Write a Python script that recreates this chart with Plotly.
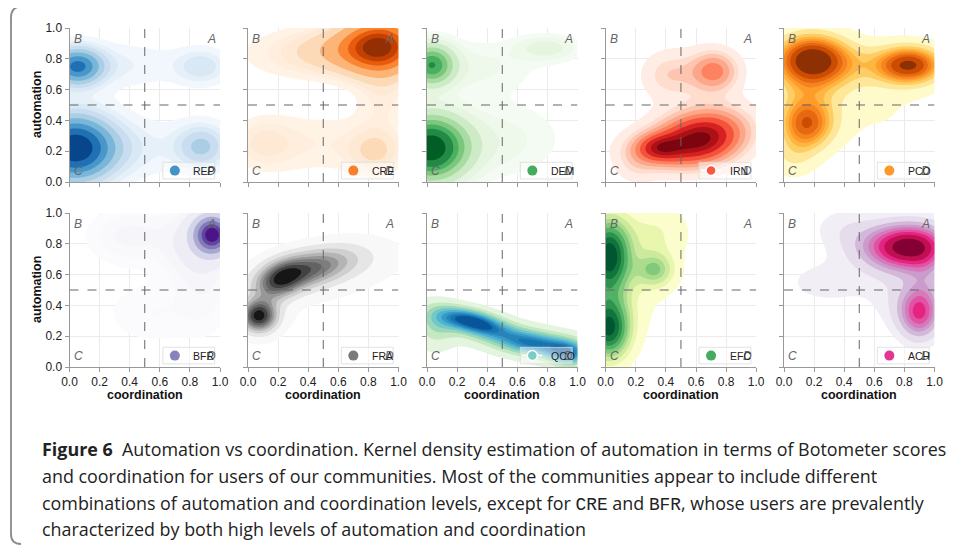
import numpy as np
import plotly.graph_objects as go

# ---------------- data ----------------
COMMUNITIES = ["REP", "CRE", "DEM", "IRN", "PCO", "BFR", "FRA", "QCO", "EFC", "ACH"]
QUADRANTS = ["A", "B", "C", "D"]
TICKS = [0.0, 0.2, 0.4, 0.6, 0.8, 1.0]
TICK_LABELS = ["0.0", "0.2", "0.4", "0.6", "0.8", "1.0"]
X_TITLE = "coordination"
Y_TITLE = "automation"

# density modes:
# (coordination, automation, spread_coord, spread_auto, weight, correlation)
REP_MODES = [(0.03, 0.22, 0.18, 0.15, 0.50, 0.0), (0.05, 0.75, 0.12, 0.085, 0.14, 0.0),
             (0.35, 0.22, 0.28, 0.13, 0.10, 0.0), (0.35, 0.76, 0.28, 0.10, 0.06, 0.0),
             (0.88, 0.23, 0.12, 0.10, 0.08, 0.0), (0.88, 0.75, 0.12, 0.08, 0.04, 0.0),
             (0.50, 0.50, 0.60, 0.50, 0.09, 0.0)]
CRE_MODES = [(0.88, 0.88, 0.17, 0.12, 0.45, 0.0), (0.60, 0.85, 0.22, 0.10, 0.12, 0.0),
             (0.25, 0.83, 0.28, 0.12, 0.06, 0.0), (0.85, 0.20, 0.12, 0.10, 0.05, 0.0),
             (0.10, 0.25, 0.15, 0.12, 0.05, 0.0), (0.50, 0.25, 0.30, 0.15, 0.09, 0.0),
             (0.90, 0.55, 0.12, 0.15, 0.04, 0.0)]
DEM_MODES = [(0.02, 0.22, 0.16, 0.14, 0.48, 0.0), (0.03, 0.76, 0.10, 0.09, 0.13, 0.0),
             (0.30, 0.25, 0.28, 0.15, 0.08, 0.0), (0.30, 0.75, 0.28, 0.12, 0.07, 0.0),
             (0.80, 0.87, 0.15, 0.06, 0.03, 0.0), (0.60, 0.30, 0.30, 0.20, 0.06, 0.0)]
IRN_MODES = [(0.64, 0.29, 0.20, 0.12, 0.45, 0.2), (0.35, 0.22, 0.10, 0.06, 0.06, 0.0),
             (0.45, 0.22, 0.25, 0.10, 0.12, 0.0), (0.72, 0.72, 0.11, 0.09, 0.10, 0.0),
             (0.42, 0.70, 0.12, 0.10, 0.05, 0.0), (0.55, 0.60, 0.25, 0.25, 0.09, 0.0),
             (0.20, 0.12, 0.10, 0.10, 0.03, 0.0)]
PCO_MODES = [(0.18, 0.80, 0.18, 0.12, 0.32, 0.0), (0.84, 0.76, 0.16, 0.09, 0.20, 0.0),
             (0.15, 0.37, 0.13, 0.12, 0.16, 0.0), (0.50, 0.75, 0.25, 0.12, 0.10, 0.0),
             (0.15, 0.55, 0.18, 0.18, 0.12, 0.0), (0.65, 0.43, 0.30, 0.17, 0.09, 0.0),
             (0.05, 0.15, 0.12, 0.10, 0.04, 0.0)]
BFR_MODES = [(0.95, 0.86, 0.08, 0.08, 0.40, 0.0), (0.85, 0.80, 0.15, 0.15, 0.18, 0.0),
             (0.40, 0.85, 0.18, 0.12, 0.09, 0.0), (0.55, 0.35, 0.22, 0.14, 0.07, 0.0),
             (0.90, 0.50, 0.12, 0.20, 0.06, 0.0)]
FRA_MODES = [(0.38, 0.63, 0.22, 0.10, 0.42, 0.5), (0.07, 0.33, 0.08, 0.07, 0.17, 0.0),
             (0.22, 0.57, 0.10, 0.08, 0.11, 0.3), (0.62, 0.66, 0.28, 0.10, 0.09, 0.4),
             (0.15, 0.45, 0.12, 0.15, 0.08, 0.3), (0.65, 0.50, 0.35, 0.22, 0.08, 0.5)]
QCO_MODES = [(0.30, 0.30, 0.17, 0.07, 0.22, -0.5), (0.72, 0.15, 0.20, 0.07, 0.22, -0.3),
             (0.50, 0.20, 0.45, 0.12, 0.22, -0.7), (0.05, 0.25, 0.10, 0.12, 0.09, 0.0),
             (0.95, 0.08, 0.10, 0.07, 0.09, 0.0)]
EFC_MODES = [(0.02, 0.72, 0.10, 0.17, 0.32, 0.0), (0.02, 0.25, 0.10, 0.14, 0.26, 0.0),
             (0.33, 0.63, 0.09, 0.08, 0.06, 0.0), (0.15, 0.60, 0.22, 0.30, 0.18, 0.0),
             (0.35, 0.88, 0.15, 0.12, 0.06, 0.0)]
ACH_MODES = [(0.84, 0.78, 0.17, 0.10, 0.42, 0.0), (0.62, 0.78, 0.15, 0.10, 0.07, 0.0),
             (0.90, 0.35, 0.09, 0.11, 0.15, 0.0), (0.82, 0.45, 0.15, 0.15, 0.08, 0.0),
             (0.30, 0.55, 0.25, 0.12, 0.07, 0.0), (0.95, 0.60, 0.08, 0.15, 0.04, 0.0),
             (0.40, 0.90, 0.15, 0.10, 0.04, 0.0)]

CAPTION_LINES = [
    "<b>Figure 6</b>  Automation vs coordination. Kernel density estimation of automation in terms of Botometer scores",
    "and coordination for users of our communities. Most of the communities appear to include different",
    "combinations of automation and coordination levels, except for {CRE} and {BFR}, whose users are prevalently",
    "characterized by both high levels of automation and coordination",
]

# ---------------- style ----------------
CMAPS = {
    "REP": ["#f7fbff", "#deebf7", "#c6dbef", "#9ecae1", "#6baed6", "#4292c6", "#2171b5", "#08519c", "#08306b"],
    "CRE": ["#fff5eb", "#fee6ce", "#fdd0a2", "#fdae6b", "#fd8d3c", "#f16913", "#d94801", "#a63603", "#7f2704"],
    "DEM": ["#f7fcf5", "#e5f5e0", "#c7e9c0", "#a1d99b", "#74c476", "#41ab5d", "#238b45", "#006d2c", "#00441b"],
    "IRN": ["#fff5f0", "#fee0d2", "#fcbba1", "#fc9272", "#fb6a4a", "#ef3b2c", "#cb181d", "#a50f15", "#67000d"],
    "PCO": ["#ffffe5", "#fff7bc", "#fee391", "#fec44f", "#fe9929", "#ec7014", "#cc4c02", "#993404", "#662506"],
    "BFR": ["#fcfbfd", "#efedf5", "#dadaeb", "#bcbddc", "#9e9ac8", "#807dba", "#6a51a3", "#54278f", "#3f007d"],
    "FRA": ["#ffffff", "#f0f0f0", "#d9d9d9", "#bdbdbd", "#969696", "#737373", "#525252", "#252525", "#000000"],
    "QCO": ["#f7fcf0", "#e0f3db", "#ccebc5", "#a8ddb5", "#7bccc4", "#4eb3d3", "#2b8cbe", "#0868ac", "#084081"],
    "EFC": ["#ffffe5", "#f7fcb9", "#d9f0a3", "#addd8e", "#78c679", "#41ab5d", "#238443", "#006837", "#004529"],
    "ACH": ["#f7f4f9", "#e7e1ef", "#d4b9da", "#c994c7", "#df65b0", "#e7298a", "#ce1256", "#980043", "#67001f"],
}
MARKER_POS = {"REP": 0.62, "CRE": 0.55, "DEM": 0.62, "IRN": 0.55, "PCO": 0.5, "BFR": 0.6,
              "FRA": 0.6, "QCO": 0.5, "EFC": 0.62, "ACH": 0.6}
MODES = {"REP": REP_MODES, "CRE": CRE_MODES, "DEM": DEM_MODES, "IRN": IRN_MODES, "PCO": PCO_MODES,
         "BFR": BFR_MODES, "FRA": FRA_MODES, "QCO": QCO_MODES, "EFC": EFC_MODES, "ACH": ACH_MODES}
LINE_LEGEND = {"IRN", "QCO"}

# page body has an 8px margin: figure is placed at (8, 8)
OFF = 8
W, H = 949, 537
COL_X0 = [69.5, 248.0, 427.0, 605.7, 784.0]
PANEL_W = 150.5
ROW_Y0 = [28.0, 213.0]
PANEL_H = 154.0


def px(x):
    return (x - OFF) / W


def py(y):
    return 1 - (y - OFF) / H


def hex2rgb(h):
    h = h.lstrip("#")
    return np.array([int(h[i:i + 2], 16) for i in (0, 2, 4)], float)


def cmap_eval(anchors, t):
    arr = np.array([hex2rgb(a) for a in anchors])
    pos = np.linspace(0, 1, len(anchors))
    r = np.interp(t, pos, arr[:, 0]); g = np.interp(t, pos, arr[:, 1]); b = np.interp(t, pos, arr[:, 2])
    return "rgb(%d,%d,%d)" % (round(r), round(g), round(b))


grid = np.linspace(0, 1, 181)
GX, GY = np.meshgrid(grid, grid)


def density(modes):
    z = np.zeros_like(GX)
    for cx, cy, sx, sy, w, r in modes:
        dx = (GX - cx) / sx
        dy = (GY - cy) / sy
        q = (dx * dx - 2 * r * dx * dy + dy * dy) / (1 - r * r)
        z += w * np.exp(-0.5 * q) / (2 * np.pi * sx * sy * np.sqrt(1 - r * r))
    return z


PROPS = np.linspace(0.05, 1, 10)

fig = go.Figure()
layout = dict(width=W, height=H, margin=dict(l=0, r=0, t=0, b=0, autoexpand=False),
              paper_bgcolor="white", plot_bgcolor="white", showlegend=False,
              font=dict(family="Liberation Sans, Arial, sans-serif", color="#222"))
shapes = []
annotations = []

for i, name in enumerate(COMMUNITIES):
    r, c = divmod(i, 5)
    n = i + 1
    xa = "xaxis" if n == 1 else "xaxis%d" % n
    ya = "yaxis" if n == 1 else "yaxis%d" % n
    xr = "x" if n == 1 else "x%d" % n
    yr = "y" if n == 1 else "y%d" % n

    z = density(MODES[name])
    vals = np.sort(z.ravel())[::-1]
    cum = np.cumsum(vals) / vals.sum()
    idx = np.clip(np.searchsorted(cum, 1 - PROPS), 0, len(vals) - 1)
    levels = vals[idx]
    mids = 0.5 * (levels[:-1] + levels[1:])
    tt = (mids - levels[0]) / (levels[-1] - levels[0])
    band_colors = [cmap_eval(CMAPS[name], t) for t in tt]
    zt = np.interp(z, np.concatenate([[0.0], levels]), np.arange(0, 11))
    cscale = [[0.0, "rgba(255,255,255,0)"]] + [[k / 9, band_colors[k - 1]] for k in range(1, 10)]

    fig.add_trace(go.Contour(
        x=grid, y=grid, z=zt, xaxis=xr, yaxis=yr,
        autocontour=False, contours=dict(start=1, end=9, size=1, coloring="fill", showlines=False),
        colorscale=cscale, showscale=False, line=dict(width=0), hoverinfo="skip"))

    x0 = px(COL_X0[c])
    x1 = px(COL_X0[c] + PANEL_W)
    y1 = py(ROW_Y0[r])
    y0 = py(ROW_Y0[r] + PANEL_H)
    common = dict(range=[0, 1], tickvals=TICKS, ticktext=TICK_LABELS, ticks="outside", ticklen=4,
                  tickcolor="#999", showline=True, linecolor="#999", linewidth=1,
                  showgrid=True, gridcolor="#ebebeb", gridwidth=1, zeroline=False,
                  tickfont=dict(size=12, color="#222"), fixedrange=True, automargin=False)
    layout[xa] = dict(domain=[x0, x1], anchor=yr, showticklabels=(r == 1), **common)
    layout[ya] = dict(domain=[y0, y1], anchor=xr, showticklabels=(c == 0), **common)

    if r == 1:
        annotations.append(dict(xref="paper", yref="paper", x=(x0 + x1) / 2, y=py(395),
                                xanchor="center", yanchor="middle", showarrow=False,
                                text="<b>%s</b>" % X_TITLE, font=dict(size=12.5, color="#111")))
    if c == 0:
        annotations.append(dict(xref="paper", yref="paper", x=px(37), y=(y0 + y1) / 2,
                                xanchor="center", yanchor="middle", showarrow=False, textangle=-90,
                                text="<b>%s</b>" % Y_TITLE, font=dict(size=12.5, color="#111")))

    # quadrant dividers
    shapes.append(dict(type="line", xref=xr, yref=yr, x0=0.5, x1=0.5, y0=0, y1=1,
                       line=dict(color="#666", width=1, dash="dash")))
    shapes.append(dict(type="line", xref=xr, yref=yr, x0=0, x1=1, y0=0.5, y1=0.5,
                       line=dict(color="#666", width=1, dash="dash")))
    # quadrant letters
    for q, (qx, qy, xanc, yanc) in zip(QUADRANTS, [(0.985, 0.985, "right", "top"), (0.015, 0.985, "left", "top"),
                                                    (0.015, 0.015, "left", "bottom"), (0.985, 0.015, "right", "bottom")]):
        annotations.append(dict(xref=xr, yref=yr, x=qx, y=qy, xanchor=xanc, yanchor=yanc,
                                text="<i>%s</i>" % q, showarrow=False,
                                font=dict(size=12, color="#666", family="Liberation Sans, Arial")))
    # legend box + marker (shapes are drawn in order, so the marker sits on the box)
    shapes.append(dict(type="rect", xref=xr, yref=yr, x0=0.62, x1=0.965, y0=0.02, y1=0.128,
                       fillcolor="rgba(255,255,255,0.45)", line=dict(color="rgba(220,220,220,0.8)", width=1)))
    mcol = cmap_eval(CMAPS[name], MARKER_POS[name])
    if name in LINE_LEGEND:
        shapes.append(dict(type="line", xref=xr, yref=yr, xsizemode="pixel", ysizemode="pixel",
                           xanchor=0.70, yanchor=0.074, x0=-10, x1=10, y0=0, y1=0,
                           line=dict(color="white", width=1.5)))
        shapes.append(dict(type="circle", xref=xr, yref=yr, xsizemode="pixel", ysizemode="pixel",
                           xanchor=0.70, yanchor=0.074, x0=-5, x1=5, y0=-5, y1=5,
                           fillcolor=mcol, line=dict(color="white", width=1.5)))
    else:
        shapes.append(dict(type="circle", xref=xr, yref=yr, xsizemode="pixel", ysizemode="pixel",
                           xanchor=0.70, yanchor=0.074, x0=-5, x1=5, y0=-5, y1=5,
                           fillcolor=mcol, line=dict(width=0)))
    annotations.append(dict(xref=xr, yref=yr, x=0.81, y=0.074, xanchor="left", yanchor="middle",
                            text=name, showarrow=False, font=dict(size=10.5, color="#222")))


# frame
def P(x, y):
    return "%.5f,%.5f" % (px(x), py(y))


frame_path = "M %s L %s Q %s %s L %s Q %s %s" % (
    P(957, 6.5), P(22, 6.5), P(11, 6.5), P(11, 17.5), P(11, 534), P(11, 544), P(21, 544))
shapes.append(dict(type="path", xref="paper", yref="paper", path=frame_path,
                   line=dict(color="#8a8a8a", width=1.8)))

# caption
mono = '<span style="font-family:Liberation Mono">%s</span>'
cap_y = [449, 476, 503, 529]
for line, yy in zip(CAPTION_LINES, cap_y):
    txt = line.replace("{CRE}", mono % "CRE").replace("{BFR}", mono % "BFR")
    annotations.append(dict(xref="paper", yref="paper", x=px(40), y=py(yy), xanchor="left",
                            yanchor="middle", text=txt, showarrow=False,
                            font=dict(size=17.9, color="#222", family="Open Sans, Arial, sans-serif")))

layout["shapes"] = shapes
layout["annotations"] = annotations
fig.update_layout(**layout)
fig.write_html("out.html")
